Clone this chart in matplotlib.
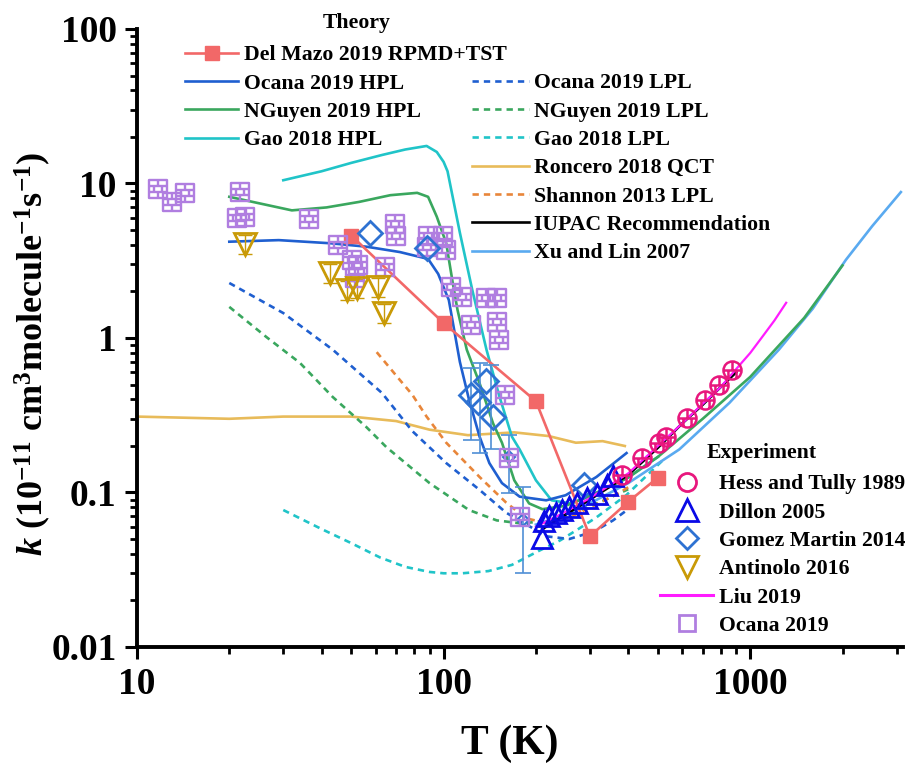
import numpy as np
import matplotlib
matplotlib.use('Agg')
import matplotlib.pyplot as plt
from matplotlib.lines import Line2D
from matplotlib.path import Path
from matplotlib.ticker import LogLocator, FuncFormatter, NullFormatter

plt.rcParams['font.family'] = ['Liberation Serif', 'DejaVu Serif']
plt.rcParams['font.weight'] = 'bold'
plt.rcParams['axes.labelweight'] = 'bold'
plt.rcParams['mathtext.fontset'] = 'custom'
plt.rcParams['mathtext.rm'] = 'Liberation Serif:bold'
plt.rcParams['mathtext.it'] = 'Liberation Serif:bold:italic'
plt.rcParams['mathtext.bf'] = 'Liberation Serif:bold'

# ---- theory curves (T in K, k in 1e-11 cm3 molecule-1 s-1) ----
T_mazo = [50, 100, 200, 300, 400, 500]
k_mazo = [4.6, 1.25, 0.39, 0.052, 0.087, 0.125]

T_ocana_hpl = [20, 29, 43, 56, 72, 81, 89, 96, 104, 113, 121, 131, 141, 155, 177, 216, 250, 315, 395]
k_ocana_hpl = [4.2, 4.3, 4.1, 3.9, 3.6, 3.4, 3.25, 2.6, 1.76, 0.7, 0.4, 0.23, 0.155, 0.115, 0.094, 0.089, 0.096, 0.126, 0.18]

T_ocana_lpl = [20, 30, 43.5, 63, 79, 102, 131, 160, 217, 257, 310, 357, 400]
k_ocana_lpl = [2.27, 1.45, 0.84, 0.44, 0.25, 0.155, 0.104, 0.074, 0.052, 0.05, 0.056, 0.066, 0.078]

T_nguyen_hpl = [20, 24.6, 32, 41.5, 53, 67, 82, 89, 95, 102, 107, 111, 119, 131, 145, 155, 170, 190,
                210, 250, 300, 400, 500, 700, 1000, 1500, 2000]
k_nguyen_hpl = [8.2, 7.5, 6.7, 7.0, 7.6, 8.4, 8.7, 8.2, 6.1, 4.1, 2.3, 1.52, 0.84, 0.51, 0.28, 0.21, 0.12, 0.085,
                0.078, 0.082, 0.095, 0.125, 0.17, 0.3, 0.56, 1.35, 2.95]

T_nguyen_lpl = [20, 26.5, 34, 43.5, 56, 65, 90, 121, 149, 180, 220, 270, 330, 400]
k_nguyen_lpl = [1.59, 1.01, 0.69, 0.415, 0.265, 0.197, 0.115, 0.077, 0.066, 0.063, 0.066, 0.075, 0.088, 0.105]

T_gao_hpl = [30, 40, 50, 63, 75, 88, 95, 100, 103, 113, 124, 138, 152, 167, 177, 200, 225, 260, 300, 400, 500]
k_gao_hpl = [10.5, 12.0, 13.6, 15.3, 16.6, 17.5, 16.0, 13.8, 12.0, 4.8, 2.05, 0.84, 0.42, 0.23, 0.19, 0.12,
             0.089, 0.085, 0.095, 0.125, 0.17]

T_gao_lpl = [30, 40, 50, 62, 75, 90, 100, 115, 140, 167, 205, 240, 275, 315, 394, 516]
k_gao_lpl = [0.077, 0.058, 0.047, 0.038, 0.033, 0.0306, 0.030, 0.030, 0.031, 0.034, 0.042, 0.049, 0.058,
             0.069, 0.096, 0.16]

T_roncero = [10, 20, 30, 50, 70, 90, 120, 170, 220, 270, 330, 390]
k_roncero = [0.31, 0.30, 0.31, 0.31, 0.29, 0.255, 0.235, 0.245, 0.232, 0.21, 0.215, 0.20]

T_shannon = [60.5, 72, 79, 88, 102, 131, 160, 186, 220, 262, 320, 375, 400]
k_shannon = [0.81, 0.535, 0.43, 0.31, 0.21, 0.126, 0.086, 0.068, 0.063, 0.07, 0.085, 0.1, 0.108]

T_iupac = [210, 300, 400, 500, 600, 700, 800, 900]
k_iupac = [0.058, 0.09, 0.13, 0.195, 0.28, 0.37, 0.48, 0.6]

T_xu = [200, 250, 300, 400, 587, 855, 1240, 1600, 2050, 2500, 3100]
k_xu = [0.062, 0.072, 0.085, 0.115, 0.19, 0.38, 0.84, 1.55, 3.2, 5.3, 8.8]

T_liu = [200, 250, 300, 400, 500, 600, 700, 800, 900, 1000, 1100, 1200, 1310]
k_liu = [0.06, 0.075, 0.092, 0.133, 0.2, 0.28, 0.375, 0.48, 0.63, 0.8, 1.03, 1.3, 1.69]

# ---- experiments ----
T_hess = [383, 445, 505, 533, 623, 713, 792, 874]
k_hess = [0.130, 0.167, 0.209, 0.229, 0.303, 0.397, 0.497, 0.621]

T_dillon = [210, 212, 221, 232, 244, 257, 273, 294, 317, 340, 358]
k_dillon = [0.051, 0.065, 0.070, 0.074, 0.077, 0.081, 0.086, 0.092, 0.098, 0.112, 0.128]

T_gomez = [57.4, 88, 123, 129, 138, 145, 288]
k_gomez = [4.79, 3.83, 0.43, 0.385, 0.53, 0.31, 0.112]

T_err = [123, 131, 143, 164, 181]
k_err = [0.43, 0.53, 0.31, 0.17, 0.066]
k_err_lo = [0.219, 0.18, 0.19, 0.099, 0.030]
k_err_hi = [0.64, 0.69, 0.67, 0.236, 0.109]

T_antinolo = [22.5, 42.5, 48.3, 52, 61, 64]
k_antinolo = [4.06, 2.64, 2.05, 2.1, 2.14, 1.45]

T_ocana_exp = [11.7, 13.0, 14.3, 21.7, 21.2, 22.5, 36.3, 45.2, 50.2, 52.5, 51.3, 64.2, 69.2, 69.8,
               88.7, 99.3, 102, 88, 106, 115, 138, 149, 123, 149, 152, 158, 164, 177]
k_ocana_exp = [9.2, 7.6, 8.7, 8.8, 5.98, 6.07, 5.9, 4.0, 3.2, 2.97, 2.44, 2.88, 5.5, 4.6,
               4.6, 4.6, 3.7, 3.9, 2.14, 1.84, 1.81, 1.81, 1.21, 1.27, 0.97, 0.43, 0.167, 0.069]

c_mazo = '#f26868'
c_ocana = '#1f5fd0'
c_nguyen = '#3aa75e'
c_gao = '#20c4c8'
c_roncero = '#e8bb5a'
c_shannon = '#e8863a'
c_xu = '#5aaaf0'
c_hess = '#e8177d'
c_dillon = '#0a0ae6'
c_gomez = '#2e72d2'
c_antinolo = '#c99a06'
c_liu = '#ff1cff'
c_ocana_exp = '#b07ee0'

M, L = Path.MOVETO, Path.LINETO
brick = Path([(-1, -1), (1, -1), (1, 1), (-1, 1), (-1, -1),
              (-1, -1/3), (1, -1/3), (-1, 1/3), (1, 1/3),
              (0, 1/3), (0, 1), (0, -1), (0, -1/3),
              (-0.5, -1/3), (-0.5, 1/3), (0.5, -1/3), (0.5, 1/3)],
             [M, L, L, L, Path.CLOSEPOLY, M, L, M, L, M, L, M, L, M, L, M, L])
circ_lines = Path.make_compound_path(
    Path.unit_circle(),
    Path([(-1, 0), (1, 0), (0, 0), (0, 0.95), (-0.45, 0), (-0.45, -0.85), (0.45, 0), (0.45, -0.85)],
         [M, L, M, L, M, L, M, L]))

fig = plt.figure(figsize=(9.14, 7.64), dpi=100)
ax = fig.add_axes([137/914, 1-647/764, (903-137)/914, (647-29)/764])
ax.set_xscale('log')
ax.set_yscale('log')
ax.set_xlim(10, 3150)
ax.set_ylim(0.01, 100)

lw = 1.9
dash = (0, (2.4, 1.9))
ax.plot(T_roncero, k_roncero, color=c_roncero, lw=lw)
ax.plot(T_gao_lpl, k_gao_lpl, color=c_gao, lw=lw, ls=dash)
ax.plot(T_nguyen_lpl, k_nguyen_lpl, color=c_nguyen, lw=lw, ls=dash)
ax.plot(T_ocana_lpl, k_ocana_lpl, color=c_ocana, lw=lw, ls=dash)
ax.plot(T_shannon, k_shannon, color=c_shannon, lw=lw, ls=dash)
ax.plot(T_gao_hpl, k_gao_hpl, color=c_gao, lw=lw)
ax.plot(T_xu, k_xu, color=c_xu, lw=lw)
ax.plot(T_nguyen_hpl, k_nguyen_hpl, color=c_nguyen, lw=lw)
ax.plot(T_ocana_hpl, k_ocana_hpl, color=c_ocana, lw=lw)
ax.plot(T_iupac, k_iupac, color='black', lw=lw)
ax.plot(T_liu, k_liu, color=c_liu, lw=1.6)
ax.plot(T_mazo, k_mazo, color=c_mazo, lw=lw, marker='s', ms=10)

k_err = np.array(k_err)
ax.errorbar(T_err, k_err, yerr=[k_err - np.array(k_err_lo), np.array(k_err_hi) - k_err], fmt='none',
            ecolor='#4f8fd6', elinewidth=1.2, capsize=6, capthick=1.2)
ax.plot(T_err[3:], k_err[3:], ls='none', marker='D', ms=6, mfc='none', mec=c_gomez, mew=1.5)
k_ant = np.array(k_antinolo)
ax.errorbar(T_antinolo, k_ant, yerr=0.14*k_ant, fmt='none', ecolor=c_antinolo, elinewidth=1, capsize=5)

ax.plot(T_ocana_exp, k_ocana_exp, ls='none', marker=brick, ms=12.5, mfc='none', mec=c_ocana_exp, mew=1.7)
ax.plot(T_antinolo, k_antinolo, ls='none', marker='v', ms=16, mfc='none', mec=c_antinolo, mew=2)
ax.plot(T_gomez, k_gomez, ls='none', marker='D', ms=12, mfc='none', mec=c_gomez, mew=2)
ax.plot(T_dillon, k_dillon, ls='none', marker='^', ms=14, mfc='none', mec=c_dillon, mew=2)
ax.plot(T_hess, k_hess, ls='none', marker=circ_lines, ms=13, mfc='none', mec=c_hess, mew=1.8)

ax.xaxis.set_major_locator(LogLocator(base=10))
ax.xaxis.set_minor_locator(LogLocator(base=10, subs=range(2, 10)))
ax.yaxis.set_major_locator(LogLocator(base=10))
ax.yaxis.set_minor_locator(LogLocator(base=10, subs=range(2, 10)))
fmt = FuncFormatter(lambda v, p: f'{v:g}')
ax.xaxis.set_major_formatter(fmt)
ax.yaxis.set_major_formatter(fmt)
ax.xaxis.set_minor_formatter(NullFormatter())
ax.yaxis.set_minor_formatter(NullFormatter())
ax.tick_params(which='major', direction='out', length=8.5, width=2.2, labelsize=27, pad=6)
ax.tick_params(which='minor', direction='out', length=5, width=2)
for s in ['top', 'right']:
    ax.spines[s].set_visible(False)
for s in ['left', 'bottom']:
    ax.spines[s].set_linewidth(2.8)

ax.set_xlabel('T (K)', fontsize=30, fontweight='bold')
ax.xaxis.set_label_coords(0.487, -0.125)
ax.set_ylabel(r'$\mathit{k}$ (10$^{-11}$ cm$^{3}$molecule$^{-1}$s$^{-1}$)', fontsize=26, fontweight='bold')
ax.yaxis.set_label_coords(-0.11, 0.475)

fs = 15.7
h1 = [Line2D([], [], color=c_mazo, lw=lw, marker='s', ms=10),
      Line2D([], [], color=c_ocana, lw=lw),
      Line2D([], [], color=c_nguyen, lw=lw),
      Line2D([], [], color=c_gao, lw=lw)]
l1 = ['Del Mazo 2019 RPMD+TST', 'Ocana 2019 HPL', 'NGuyen 2019 HPL', 'Gao 2018 HPL']
leg1 = ax.legend(h1, l1, loc='upper left', bbox_to_anchor=(185/914, 1-45/764), bbox_transform=fig.transFigure,
                 frameon=False, borderpad=0, borderaxespad=0, handlelength=2.45, handletextpad=0.25,
                 labelspacing=0.37, fontsize=fs)
ax.add_artist(leg1)

h2 = [Line2D([], [], color=c_ocana, lw=lw, ls=dash),
      Line2D([], [], color=c_nguyen, lw=lw, ls=dash),
      Line2D([], [], color=c_gao, lw=lw, ls=dash),
      Line2D([], [], color=c_roncero, lw=lw),
      Line2D([], [], color=c_shannon, lw=lw, ls=dash),
      Line2D([], [], color='black', lw=lw),
      Line2D([], [], color=c_xu, lw=lw)]
l2 = ['Ocana 2019 LPL', 'NGuyen 2019 LPL', 'Gao 2018 LPL', 'Roncero 2018 QCT', 'Shannon 2013 LPL',
      'IUPAC Recommendation', 'Xu and Lin 2007']
leg2 = ax.legend(h2, l2, loc='upper left', bbox_to_anchor=(472/914, 1-73/764), bbox_transform=fig.transFigure,
                 frameon=False, borderpad=0, borderaxespad=0, handlelength=2.6, handletextpad=0.25,
                 labelspacing=0.37, fontsize=fs)
ax.add_artist(leg2)

h3 = [Line2D([], [], ls='none', marker='o', ms=13, mfc='none', mec=c_hess, mew=2),
      Line2D([], [], ls='none', marker='^', ms=16, mfc='none', mec=c_dillon, mew=2),
      Line2D([], [], ls='none', marker='D', ms=11.5, mfc='none', mec=c_gomez, mew=2),
      Line2D([], [], ls='none', marker='v', ms=16, mfc='none', mec=c_antinolo, mew=2),
      Line2D([], [], color=c_liu, lw=2.2),
      Line2D([], [], ls='none', marker='s', ms=12, mfc='none', mec=c_ocana_exp, mew=2)]
l3 = ['Hess and Tully 1989', 'Dillon 2005', 'Gomez Martin 2014', 'Antinolo 2016', 'Liu 2019', 'Ocana 2019']
leg3 = ax.legend(h3, l3, loc='upper left', bbox_to_anchor=(660/914, 1-474/764), bbox_transform=fig.transFigure,
                 frameon=False, borderpad=0, borderaxespad=0, handlelength=2.45, handletextpad=0.25,
                 labelspacing=0.37, fontsize=fs)

fig.text(357/914, 1-23/764, 'Theory', ha='center', va='center', fontsize=fs)
fig.text(707/914, 1-453/764, 'Experiment', ha='left', va='center', fontsize=fs)

fig.savefig('out.png', dpi=100)
